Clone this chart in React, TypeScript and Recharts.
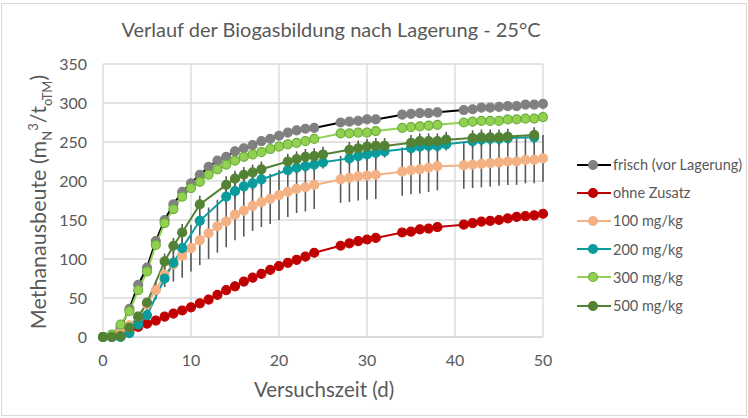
import { LineChart, Line, CartesianGrid, XAxis, YAxis, ErrorBar } from "recharts";

// measurement days
const daysA = [0, 1, 2, 3, 4, 5, 6, 7, 8, 9, 10, 11, 12, 13, 14, 15, 16, 17, 18, 19, 20, 21, 22, 23, 24, 27, 28, 29, 30, 31, 34, 35, 36, 37, 38, 41, 42, 43, 44, 45, 46, 47, 48, 49, 50];
const daysB = [0, 1, 2, 3, 4, 5, 7, 8, 9, 11, 14, 15, 16, 17, 18, 21, 22, 23, 24, 25, 28, 29, 30, 31, 32, 35, 36, 37, 38, 39, 42, 43, 44, 45, 46, 49];

// series values (m3/t oTM)
const frisch = [0, 1, 12, 36, 67, 89, 123, 150, 170, 186, 197, 208, 218, 226, 231, 238, 242, 246, 251, 254, 258, 262, 265, 267, 268, 275, 276, 277, 279, 279, 285, 286, 287, 287, 288, 291, 292, 294, 294, 295, 296, 296, 298, 298, 299];
const frischErr = [0, 0, 2, 3, 4, 4, 5, 5, 5, 5, 4, 4, 4, 4, 4, 4, 4, 4, 4, 4, 4, 4, 4, 4, 4, 5, 5, 5, 5, 5, 5, 5, 5, 5, 5, 5, 5, 5, 5, 5, 5, 5, 5, 5, 6];
const ohne = [0, 0, 2, 8, 13, 17, 21, 26, 30, 34, 38, 43, 48, 54, 60, 65, 71, 76, 81, 86, 91, 95, 99, 103, 108, 117, 120, 123, 125, 127, 134, 135, 138, 139, 141, 144, 146, 148, 149, 150, 152, 154, 155, 156, 158];
const mg100 = [0, 2, 6, 15, 26, 42, 60, 80, 93, 104, 114, 124, 133, 142, 148, 157, 162, 168, 173, 177, 182, 186, 190, 192, 195, 202, 204, 206, 207, 208, 212, 214, 215, 217, 219, 220, 221, 222, 223, 224, 225, 225, 227, 227, 229];
const mg100Err = [0, 0, 2, 4, 6, 8, 12, 16, 22, 28, 30, 32, 33, 34, 33, 33, 33, 32, 32, 32, 32, 32, 31, 31, 31, 30, 31, 31, 31, 31, 31, 31, 31, 31, 31, 30, 30, 30, 30, 30, 30, 30, 30, 30, 30];
const mg200 = [0, 0, 0, 5, 16, 28, 75, 95, 114, 149, 180, 187, 193, 197, 202, 214, 217, 219, 221, 224, 229, 232, 234, 236, 238, 242, 244, 245, 245, 247, 251, 253, 254, 254, 255, 256];
const mg200Err = [0, 0, 0, 2, 4, 5, 8, 9, 10, 10, 10, 9, 9, 9, 9, 8, 8, 8, 8, 8, 8, 8, 8, 8, 8, 8, 8, 8, 8, 8, 8, 8, 8, 8, 8, 8];
const mg300 = [0, 3, 16, 33, 60, 84, 118, 146, 164, 180, 191, 199, 208, 215, 221, 226, 231, 234, 237, 241, 244, 247, 249, 251, 254, 261, 261, 262, 262, 264, 268, 269, 270, 271, 272, 275, 276, 277, 277, 277, 279, 279, 280, 280, 282];
const mg500 = [0, 0, 1, 12, 26, 44, 97, 117, 134, 170, 195, 203, 208, 211, 215, 225, 228, 231, 232, 234, 240, 242, 244, 245, 245, 249, 251, 251, 251, 253, 255, 256, 256, 256, 257, 259];
const mg500Err = [0, 0, 1, 3, 5, 6, 10, 10, 11, 11, 11, 10, 10, 10, 10, 10, 10, 10, 10, 10, 10, 10, 10, 10, 10, 10, 10, 10, 10, 10, 10, 10, 10, 10, 10, 10];

const xTicks = [0, 10, 20, 30, 40, 50];
const yTicks = [0, 50, 100, 150, 200, 250, 300, 350];

const build = (days: number[], vals: number[], errs?: number[]) =>
  days.map((d, i) => ({ d, v: vals[i], e: errs ? errs[i] : 0 }));

const series = [
  { name: "frisch (vor Lagerung)", data: build(daysA, frisch, frischErr), line: "#000000", fill: "#808080", stroke: "#808080", err: true },
  { name: "ohne Zusatz", data: build(daysA, ohne), line: "#C00000", fill: "#C00000", stroke: "#C00000", err: false },
  { name: "100 mg/kg", data: build(daysA, mg100, mg100Err), line: "#F4B183", fill: "#F4B183", stroke: "#F4B183", err: true },
  { name: "200 mg/kg", data: build(daysB, mg200, mg200Err), line: "#0A9C9C", fill: "#0A9C9C", stroke: "#0A9C9C", err: true },
  { name: "300 mg/kg", data: build(daysA, mg300), line: "#92D050", fill: "#92D050", stroke: "#6AAE3C", err: false },
  { name: "500 mg/kg", data: build(daysB, mg500, mg500Err), line: "#548235", fill: "#548235", stroke: "#548235", err: true },
];

const font = "Lato, 'Open Sans', sans-serif";
const textColor = "#595959";

export default function App() {
  return (
    <div style={{ position: "absolute", left: 0, top: 0, width: 748, height: 418, background: "#fff", fontFamily: font }}>
      <div style={{ position: "absolute", left: 1, top: 3, width: 746, height: 413, border: "1px solid #d9d9d9", boxSizing: "border-box" }} />
      <LineChart width={748} height={418} data={series[0].data} margin={{ top: 64, right: 205, bottom: 51, left: 0 }}>
        <CartesianGrid stroke="#d9d9d9" strokeWidth={1.3} />
        <XAxis
          type="number"
          dataKey="d"
          domain={[0, 50]}
          ticks={xTicks}
          height={30}
          axisLine={{ stroke: "#d9d9d9", strokeWidth: 1.3 }}
          tickLine={false}
          tickSize={6}
          tickMargin={12}
          tick={{ fill: textColor, fontSize: 16, fontFamily: font }}
          allowDuplicatedCategory={false}
        />
        <YAxis
          type="number"
          domain={[0, 350]}
          ticks={yTicks}
          width={103}
          axisLine={false}
          tickLine={false}
          tickSize={6}
          tickMargin={10}
          tick={{ fill: textColor, fontSize: 16, fontFamily: font }}
        />
        {series.map((s) => (
          <Line
            key={s.name}
            data={s.data}
            dataKey="v"
            name={s.name}
            stroke={s.line}
            strokeWidth={2}
            dot={{ r: 4.5, fill: s.fill, stroke: s.stroke, strokeWidth: 1.2 }}
            activeDot={false}
            isAnimationActive={false}
          >
            {s.err && <ErrorBar dataKey="e" direction="y" width={0} stroke="#595959" strokeWidth={1.6} />}
          </Line>
        ))}
      </LineChart>

      <div style={{ position: "absolute", left: 0, width: 662, top: 17, textAlign: "center", fontSize: 20, color: textColor, whiteSpace: "nowrap" }}>
        Verlauf der Biogasbildung nach Lagerung - 25°C
      </div>

      <div
        style={{
          position: "absolute",
          left: 40,
          top: 202,
          transform: "translate(-50%, -50%) rotate(-90deg)",
          fontSize: 21.5,
          color: textColor,
          whiteSpace: "nowrap",
        }}
      >
        Methanausbeute (m<sub style={{ fontSize: 13 }}>N</sub>
        <sup style={{ fontSize: 13 }}>3</sup>/t<sub style={{ fontSize: 13 }}>oTM</sub>)
      </div>

      <div style={{ position: "absolute", left: 0, width: 648, top: 377, textAlign: "center", fontSize: 20.5, color: textColor, whiteSpace: "nowrap" }}>
        Versuchszeit (d)
      </div>

      <div style={{ position: "absolute", left: 576, top: 150.5 }}>
        {series.map((s) => (
          <div key={s.name} style={{ display: "flex", alignItems: "center", height: 28.2, fontSize: 14.5, color: textColor, whiteSpace: "nowrap" }}>
            <svg width={36} height={12} style={{ marginRight: 1 }}>
              <line x1={1} y1={6} x2={35} y2={6} stroke={s.line} strokeWidth={2} />
              <circle cx={17} cy={6} r={4.5} fill={s.fill} stroke={s.stroke} strokeWidth={1.2} />
            </svg>
            {s.name}
          </div>
        ))}
      </div>
    </div>
  );
}
